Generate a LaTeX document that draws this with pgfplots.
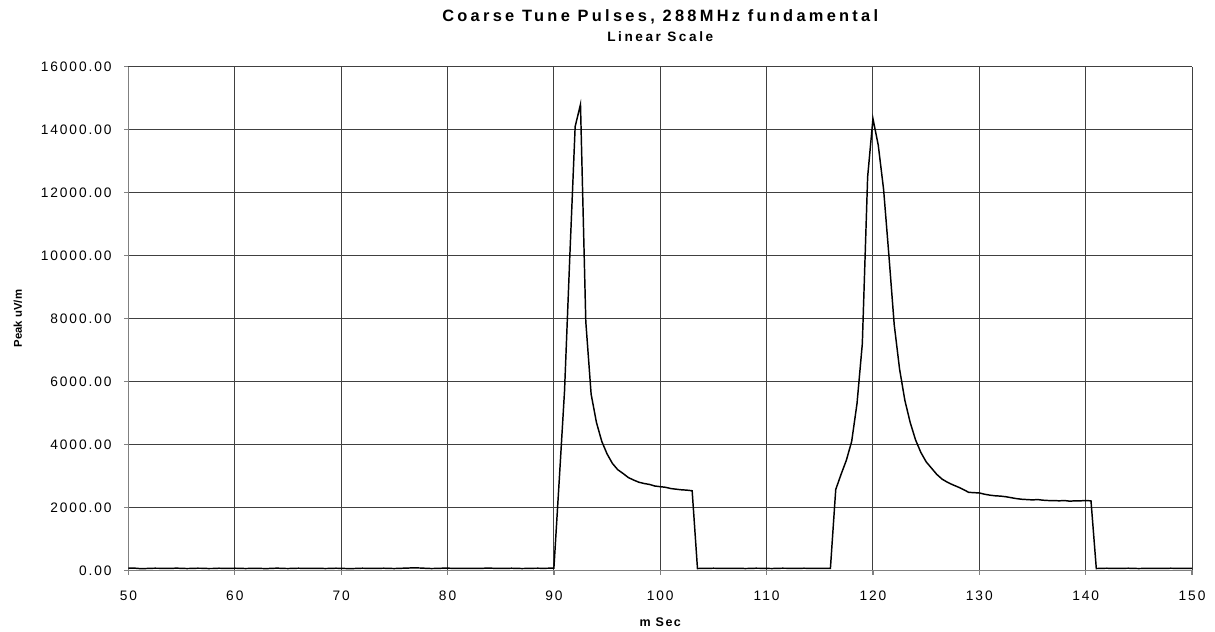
\documentclass[border=0pt]{standalone}
\usepackage{pgfplots}
\pgfplotsset{compat=1.18}
\usepackage{fontspec}
\setmainfont{Liberation Sans}
\begin{document}
\begin{tikzpicture}
\begin{axis}[
  scale only axis, width=798pt, height=378pt,
  xmin=50, xmax=150, ymin=0, ymax=16000,
  xtick={50,60,...,150}, ytick={0,2000,...,16000},
  scaled y ticks=false,
  grid=major, major grid style={black!75, line width=0.7pt},
  axis lines*=left, axis line style={gray, line width=1.3pt},
  tick align=outside, major tick length=3.2pt, tick style={gray, line width=1pt},
  /pgf/number format/assume math mode=true,
  ticklabel style={font=\fontsize{10.3}{12}\selectfont\addfontfeatures{LetterSpace=14}},
  yticklabel style={xshift=-6pt, /pgf/number format/fixed, /pgf/number format/fixed zerofill, /pgf/number format/precision=2, /pgf/number format/1000 sep={}},
  xticklabel style={yshift=-9pt},
  clip=false,
  xlabel={m Sec},
  xlabel style={at={(axis description cs:0.5,-0.103)}, anchor=center, font=\bfseries\fontsize{9.4}{11}\selectfont\addfontfeatures{LetterSpace=12}},
]
\addplot[black, line width=1.1pt] coordinates {
(50,70)(50.5,75)(51,60)(51.5,58)(52,66)(52.5,70)(53,68)(53.5,62)(54,65)(54.5,72)
(55,66)(55.5,60)(56,64)(56.5,70)(57,68)(57.5,60)(58,62)(58.5,70)(59,66)(59.5,64)
(60,70)(60.5,66)(61,60)(61.5,64)(62,68)(62.5,62)(63,58)(63.5,66)(64,72)(64.5,64)
(65,60)(65.5,66)(66,70)(66.5,64)(67,62)(67.5,68)(68,66)(68.5,60)(69,64)(69.5,70)
(70,66)(70.5,60)(71,58)(71.5,64)(72,70)(72.5,66)(73,62)(73.5,66)(74,70)(74.5,64)
(75,60)(75.5,66)(76,72)(76.5,78)(77,80)(77.5,76)(78,66)(78.5,60)(79,64)(79.5,70)
(80,72)(80.5,66)(81,62)(81.5,64)(82,68)(82.5,66)(83,64)(83.5,70)(84,72)(84.5,66)
(85,62)(85.5,64)(86,70)(86.5,66)(87,60)(87.5,64)(88,68)(88.5,70)(89,66)(89.5,70)
(90,72)(90.5,2850)(91,5700)(91.5,10000)(92,14100)(92.5,14800)(93,7900)(93.5,5600)
(94,4700)(94.5,4100)(95,3700)(95.5,3400)(96,3200)(96.5,3080)(97,2950)(97.5,2870)
(98,2800)(98.5,2760)(99,2730)(99.5,2680)(100,2660)(100.5,2640)(101,2600)(101.5,2580)
(102,2560)(102.5,2550)(103,2530)(103.5,60)
(104,66)(104.5,64)(105,70)(105.5,66)(106,62)(106.5,64)(107,68)(107.5,66)(108,60)(108.5,64)
(109,70)(109.5,68)(110,64)(110.5,60)(111,66)(111.5,70)(112,68)(112.5,62)(113,64)(113.5,70)
(114,66)(114.5,62)(115,64)(115.5,68)(116,66)
(116.5,2570)(117,3050)(117.5,3500)(118,4100)(118.5,5300)(119,7200)(119.5,12500)(120,14350)
(120.5,13500)(121,12100)(121.5,10000)(122,7800)(122.5,6400)(123,5400)(123.5,4700)(124,4150)
(124.5,3750)(125,3450)(125.5,3250)(126,3050)(126.5,2900)(127,2800)(127.5,2720)(128,2650)
(128.5,2570)(129,2480)(129.5,2470)(130,2460)(130.5,2420)(131,2390)(131.5,2370)(132,2360)
(132.5,2340)(133,2310)(133.5,2280)(134,2260)(134.5,2250)(135,2240)(135.5,2250)(136,2230)
(136.5,2220)(137,2220)(137.5,2210)(138,2220)(138.5,2200)(139,2210)(139.5,2210)(140,2220)
(140.5,2210)(141,60)
(141.5,66)(142,70)(142.5,64)(143,62)(143.5,66)(144,70)(144.5,64)(145,60)(145.5,64)(146,68)
(146.5,66)(147,62)(147.5,64)(148,70)(148.5,66)(149,62)(149.5,64)(150,68)
};
\node[font=\bfseries\fontsize{12.3}{14}\selectfont\addfontfeatures{LetterSpace=20}] at (rel axis cs:0.5,1.098) {Coarse Tune Pulses, 288MHz fundamental};
\node[font=\bfseries\fontsize{10.2}{12}\selectfont\addfontfeatures{LetterSpace=19}] at (rel axis cs:0.5,1.059) {Linear Scale};
\node[font=\bfseries\fontsize{8.5}{10}\selectfont, rotate=90, anchor=center] at (rel axis cs:-0.104,0.5) {Peak uV/m};
\path (rel axis cs:-0.1208,-0.117) rectangle (rel axis cs:1.0216,1.1323);
\end{axis}
\end{tikzpicture}
\end{document}
